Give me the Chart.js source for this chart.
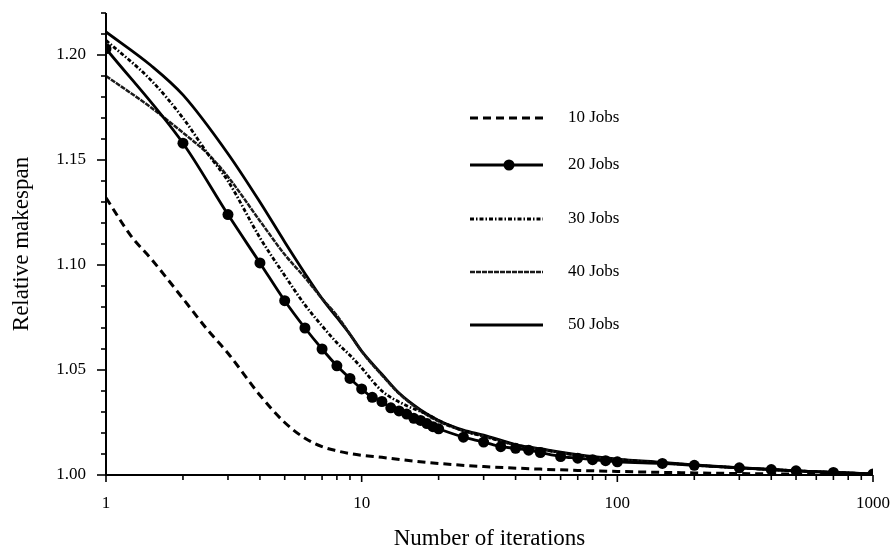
<!DOCTYPE html>
<html lang="en">
  <head>
    <meta charset="UTF-8" />
    <title>Relative makespan vs iterations</title>
    <script src="https://cdn.jsdelivr.net/npm/chart.js"></script>
    <style>
      body {
        margin: 0;
        background-color: #fff;
      }
      .wrap {
        width: 893px;
        height: 553px;
      }
    </style>
  </head>
  <body>
    <div class="wrap">
      <canvas id="chart" width="893" height="553"></canvas>
    </div>

    <script>
      // values
      const jobs10X = [1, 1.25, 1.5, 2, 2.5, 3, 4, 5, 6, 7, 8, 9, 10, 12, 15, 20, 30, 50, 70, 100, 200, 300, 500, 1000];
      const jobs10Y = [1.132, 1.114, 1.103, 1.084, 1.069, 1.058, 1.038, 1.025, 1.0175, 1.0135, 1.0115, 1.0102, 1.0094, 1.0084, 1.007, 1.0055, 1.004, 1.0028, 1.0022, 1.0017, 1.001, 1.0007, 1.0004, 1.0];

      const jobs20X = [1, 2, 3, 4, 5, 6, 7, 8, 9, 10, 11, 12, 13, 14, 15, 16, 17, 18, 19, 20, 25, 30, 35, 40, 45, 50, 60, 70, 80, 90, 100, 150, 200, 300, 400, 500, 700, 1000];
      const jobs20Y = [1.203, 1.158, 1.124, 1.101, 1.083, 1.07, 1.06, 1.052, 1.046, 1.041, 1.037, 1.035, 1.032, 1.0305, 1.029, 1.027, 1.026, 1.0245, 1.023, 1.022, 1.018, 1.0157, 1.0135, 1.0127, 1.0118, 1.0107, 1.0088, 1.008, 1.0073, 1.0068, 1.0063, 1.0055, 1.0046, 1.0034, 1.0026, 1.002, 1.0012, 1.0005];

      const jobs30X = [1, 1.5, 2, 2.5, 3, 4, 5, 6, 7, 8, 9, 10, 12, 15, 18, 20, 25, 30, 40, 50, 70, 100, 150, 200, 300, 500, 1000];
      const jobs30Y = [1.207, 1.188, 1.17, 1.153, 1.14, 1.113, 1.095, 1.081, 1.071, 1.063, 1.057, 1.051, 1.04, 1.033, 1.029, 1.026, 1.021, 1.0185, 1.0143, 1.0122, 1.0094, 1.0074, 1.0058, 1.0047, 1.0034, 1.002, 1.0005];

      const jobs40X = [1, 1.5, 2, 2.5, 3, 4, 5, 6, 7, 8, 9, 10, 12, 14, 17, 20, 25, 30, 40, 50, 70, 100, 150, 200, 300, 500, 1000];
      const jobs40Y = [1.19, 1.175, 1.163, 1.153, 1.142, 1.121, 1.105, 1.094, 1.084, 1.076, 1.067, 1.0588, 1.0475, 1.0388, 1.0305, 1.0255, 1.021, 1.0185, 1.0142, 1.0122, 1.0094, 1.0074, 1.0058, 1.0047, 1.0034, 1.002, 1.0005];

      const jobs50X = [1, 1.5, 2, 3, 4, 5, 6, 7, 8, 9, 10, 12, 14, 17, 20, 25, 30, 40, 50, 70, 100, 150, 200, 300, 500, 1000];
      const jobs50Y = [1.211, 1.195, 1.181, 1.153, 1.13, 1.111, 1.096, 1.084, 1.075, 1.067, 1.059, 1.048, 1.039, 1.031, 1.026, 1.0214, 1.019, 1.0145, 1.0125, 1.0097, 1.0076, 1.006, 1.0048, 1.0035, 1.002, 1.0005];

      const seriesLabels = ['10 Jobs', '20 Jobs', '30 Jobs', '40 Jobs', '50 Jobs'];
      const xTickLabels = [1, 10, 100, 1000];
      const yTickLabels = ['1.00', '1.05', '1.10', '1.15', '1.20'];
      const yMinorSteps = 22; // 1.00 .. 1.22 in 0.01 steps

      const serif = "'Liberation Serif', 'DejaVu Serif', serif";

      function toPoints(xs, ys) {
        return xs.map((x, i) => ({ x: x, y: ys[i] }));
      }

      function lineSet(label, xs, ys, extra) {
        return Object.assign(
          {
            label: label,
            data: toPoints(xs, ys),
            borderColor: '#000',
            backgroundColor: '#000',
            borderWidth: 2.8,
            pointRadius: 0,
            fill: false,
            cubicInterpolationMode: 'monotone',
          },
          extra
        );
      }

      const datasets = [
        lineSet(seriesLabels[0], jobs10X, jobs10Y, { borderDash: [8, 5], borderWidth: 3 }),
        lineSet(seriesLabels[1], jobs20X, jobs20Y, { pointRadius: 5.5, pointBorderWidth: 0 }),
        lineSet(seriesLabels[2], jobs30X, jobs30Y, { borderDash: [4, 2, 1.5, 2] }),
        lineSet(seriesLabels[3], jobs40X, jobs40Y, { borderDash: [5, 1], borderColor: '#1a1a1a', borderWidth: 2.5 }),
        lineSet(seriesLabels[4], jobs50X, jobs50Y, {}),
      ];

      // axis lines and tick marks, drawn through the chart's own scales
      const axesPlugin = {
        id: 'axes',
        afterDraw(chart) {
          const ctx = chart.ctx;
          const xs = chart.scales.x;
          const ys = chart.scales.y;
          const left = xs.getPixelForValue(1);
          const right = xs.getPixelForValue(1000);
          const bottom = ys.getPixelForValue(1.0);
          const top = ys.getPixelForValue(1.22);
          ctx.save();
          ctx.strokeStyle = '#000';
          ctx.lineWidth = 2;
          ctx.beginPath();
          ctx.moveTo(left, top);
          ctx.lineTo(left, bottom);
          ctx.lineTo(right, bottom);
          ctx.stroke();
          ctx.lineWidth = 1.6;
          xs.ticks.forEach((t) => {
            const px = xs.getPixelForValue(t.value);
            const len = t.major ? 7 : 5;
            ctx.beginPath();
            ctx.moveTo(px, bottom);
            ctx.lineTo(px, bottom + len);
            ctx.stroke();
          });
          ys.ticks.forEach((t) => {
            const py = ys.getPixelForValue(t.value);
            const len = t.major ? 9 : 5;
            ctx.beginPath();
            ctx.moveTo(left, py);
            ctx.lineTo(left - len, py);
            ctx.stroke();
          });
          ctx.restore();
        },
      };

      // legend placed inside the plot like the original
      const legendPlugin = {
        id: 'innerLegend',
        afterDraw(chart) {
          const ctx = chart.ctx;
          const rowsY = [118, 165, 219, 272, 325];
          const x0 = 470;
          const x1 = 543;
          ctx.save();
          chart.data.datasets.forEach((ds, i) => {
            const y = rowsY[i];
            ctx.strokeStyle = ds.borderColor;
            ctx.lineWidth = ds.borderWidth;
            ctx.setLineDash(ds.borderDash || []);
            ctx.beginPath();
            ctx.moveTo(x0, y);
            ctx.lineTo(x1, y);
            ctx.stroke();
            ctx.setLineDash([]);
            if (ds.pointRadius > 0) {
              ctx.fillStyle = '#000';
              ctx.beginPath();
              ctx.arc(509, y, ds.pointRadius, 0, Math.PI * 2);
              ctx.fill();
            }
            ctx.fillStyle = '#000';
            ctx.font = '17px ' + serif;
            ctx.textBaseline = 'middle';
            ctx.fillText(ds.label, 568, y);
          });
          ctx.restore();
        },
      };

      const ctx = document.getElementById('chart').getContext('2d');
      new Chart(ctx, {
        type: 'line',
        data: { datasets: datasets },
        options: {
          responsive: false,
          animation: false,
          layout: { padding: { top: 13, right: 20, left: 0, bottom: 0 } },
          plugins: { legend: { display: false }, tooltip: { enabled: false } },
          scales: {
            x: {
              type: 'logarithmic',
              min: 1,
              max: 1000,
              grid: { display: false },
              border: { display: false },
              afterBuildTicks(scale) {
                const ticks = [];
                xTickLabels.forEach((p, k) => {
                  for (let m = 1; m <= 9; m++) {
                    if (k === xTickLabels.length - 1 && m > 1) break;
                    ticks.push({ value: p * m, major: m === 1 });
                  }
                });
                scale.ticks = ticks;
              },
              afterFit(scale) {
                scale.height = 78;
                scale.paddingLeft = 0;
                scale.paddingRight = 0;
              },
              ticks: {
                autoSkip: false,
                maxRotation: 0,
                padding: 10,
                color: '#000',
                font: { family: serif, size: 17 },
                callback: (v) => (xTickLabels.includes(v) ? String(v) : ''),
              },
              title: {
                display: true,
                text: 'Number of iterations',
                color: '#000',
                font: { family: serif, size: 23 },
                padding: { top: 0, bottom: 0 },
              },
            },
            y: {
              type: 'linear',
              min: 1.0,
              max: 1.22,
              grid: { display: false },
              border: { display: false },
              afterBuildTicks(scale) {
                const ticks = [];
                for (let i = 0; i <= yMinorSteps; i++) {
                  ticks.push({ value: (100 + i) / 100, major: i % 5 === 0 });
                }
                scale.ticks = ticks;
              },
              afterFit(scale) {
                scale.width = 106;
                scale.paddingTop = 0;
                scale.paddingBottom = 0;
              },
              ticks: {
                autoSkip: false,
                padding: 12,
                color: '#000',
                font: { family: serif, size: 17 },
                callback: function (v) {
                  const label = v.toFixed(2);
                  return yTickLabels.includes(label) ? label : '';
                },
              },
              title: {
                display: true,
                text: 'Relative makespan',
                color: '#000',
                font: { family: serif, size: 23 },
                padding: { top: 8, bottom: 0 },
              },
            },
          },
        },
        plugins: [axesPlugin, legendPlugin],
      });
    </script>
  </body>
</html>
